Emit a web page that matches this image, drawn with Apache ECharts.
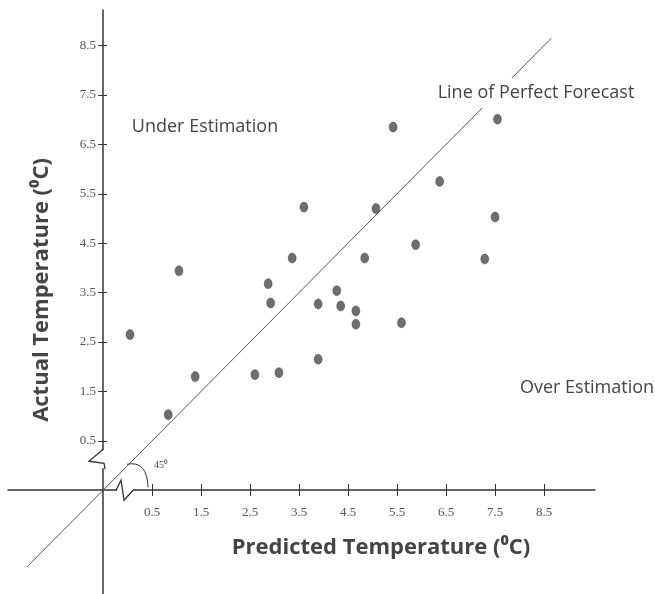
<!DOCTYPE html>
<html>
<head>
<meta charset="utf-8">
<script src="https://cdn.jsdelivr.net/npm/echarts@6/dist/echarts.min.js"></script>
<style>
  html, body { margin: 0; padding: 0; background: #fff; }
  #chart { width: 655px; height: 594px; }
</style>
</head>
<body>
<div id="chart"></div>
<script>
// tick labels on both axes
const xTicks = [0.5, 1.5, 2.5, 3.5, 4.5, 5.5, 6.5, 7.5, 8.5]
const yTicks = [0.5, 1.5, 2.5, 3.5, 4.5, 5.5, 6.5, 7.5, 8.5]
// predicted (x) / actual (y) temperatures
const predicted = [5.42, 7.55, 6.37, 3.60, 5.07, 7.50, 5.88, 3.36, 4.84, 7.29, 1.05, 2.87, 4.27,
  2.92, 3.89, 4.35, 4.66, 4.66, 5.59, 0.05, 3.89, 1.38, 2.60, 3.09, 0.83]
const actual = [6.85, 7.01, 5.75, 5.23, 5.20, 5.03, 4.47, 4.20, 4.20, 4.18, 3.94, 3.68, 3.54,
  3.29, 3.27, 3.23, 3.13, 2.86, 2.89, 2.65, 2.15, 1.80, 1.84, 1.88, 1.03]
// ends of the y = x line
const perfectLine = [-2.05, 8.65]

const chart = echarts.init(document.getElementById('chart'))

const axisColor = '#333'
const labelFont = { fontFamily: 'Liberation Serif', fontSize: 13, color: '#555' }

const option = {
  animation: false,
  grid: { left: 8, right: 60, top: 10, bottom: 0, containLabel: false },
  xAxis: [
    {
      type: 'value', min: -2.44, max: 9.54, position: 'bottom', offset: -104,
      splitLine: { show: false },
      axisLine: { onZero: false, lineStyle: { color: axisColor, width: 1.5 } },
      axisTick: { customValues: xTicks, length: 6, lineStyle: { color: axisColor } },
      axisLabel: Object.assign({ customValues: xTicks, margin: 16, formatter: v => v.toFixed(1) }, labelFont)
    },
    {
      type: 'value', min: -2.44, max: 9.54, position: 'bottom', offset: -104,
      splitLine: { show: false },
      axisLine: { show: false, onZero: false },
      axisTick: { customValues: xTicks, inside: true, length: 6, lineStyle: { color: axisColor } },
      axisLabel: { show: false }
    }
  ],
  yAxis: [
    {
      type: 'value', min: -2.6, max: 9.22, position: 'left', offset: -95,
      splitLine: { show: false },
      axisLine: { onZero: false, lineStyle: { color: axisColor, width: 1.5 } },
      axisTick: { customValues: yTicks, length: 5, lineStyle: { color: axisColor } },
      axisLabel: Object.assign({ customValues: yTicks, margin: 7, formatter: v => v.toFixed(1) }, labelFont)
    },
    {
      type: 'value', min: -2.6, max: 9.22, position: 'left', offset: -95,
      splitLine: { show: false },
      axisLine: { show: false, onZero: false },
      axisTick: { customValues: yTicks, inside: true, length: 4, lineStyle: { color: axisColor } },
      axisLabel: { show: false }
    }
  ],
  series: [
    {
      // line of perfect forecast
      type: 'line',
      silent: true,
      symbol: 'none',
      data: [[perfectLine[0], perfectLine[0]], [perfectLine[1], perfectLine[1]]],
      lineStyle: { color: '#555', width: 1 },
      z: 1
    },
    {
      type: 'scatter',
      symbol: 'circle',
      symbolSize: [8, 10],
      data: predicted.map((x, i) => [x, actual[i]]),
      itemStyle: { color: '#4a4a4a', borderColor: '#333', borderWidth: 0.5 },
      z: 3
    }
  ]
}
chart.setOption(option)

// pixel of the axis crossing, used for the break marks and the 45° note
const o = chart.convertToPixel({ gridIndex: 0 }, [-0.5, -0.5])
const ox = o[0], oy = o[1]

function txt(x, y, text, font, extra) {
  return Object.assign({
    type: 'text', x: x, y: y, z: 100,
    style: {
      text: text, font: font, fill: '#444',
      align: 'center', verticalAlign: 'middle',
      textAlign: 'center', textVerticalAlign: 'middle'
    }
  }, extra || {})
}

const regionFont = '18px "Open Sans"'
const titleFont = 'bold 22px "Open Sans"'
const lineLabel = txt(536, 93, 'Line of Perfect Forecast', regionFont)
lineLabel.style.backgroundColor = '#fff'
lineLabel.style.padding = [6, 2]

chart.setOption({
  graphic: [
    txt(205, 127, 'Under Estimation', regionFont),
    lineLabel,
    txt(587, 388, 'Over Estimation', regionFont),
    txt(381, 548, 'Predicted Temperature (⁰C)', titleFont, {}),
    txt(42, 290, 'Actual Temperature (⁰C)', titleFont, { rotation: Math.PI / 2 }),
    txt(ox + 58, oy - 25, '45⁰', '10px "Liberation Serif"'),
    // gaps in the axes for the break marks
    { type: 'rect', z: 90, shape: { x: ox + 14, y: oy - 3, width: 16, height: 6 }, style: { fill: '#fff' } },
    { type: 'rect', z: 90, shape: { x: ox - 3, y: oy - 40, width: 6, height: 18 }, style: { fill: '#fff' } },
    {
      type: 'polyline', z: 95,
      shape: { points: [[ox + 13, oy], [ox + 18, oy - 10], [ox + 21, oy + 10], [ox + 30, oy]] },
      style: { stroke: axisColor, lineWidth: 1.3, fill: null }
    },
    {
      type: 'polyline', z: 95,
      shape: { points: [[ox, oy - 41], [ox - 14, oy - 29], [ox + 1, oy - 27], [ox + 2, oy - 21]] },
      style: { stroke: axisColor, lineWidth: 1.3, fill: null }
    },
    {
      type: 'bezierCurve', z: 95,
      shape: { x1: ox + 24, y1: oy - 26, x2: ox + 45, y2: oy - 3, cpx1: ox + 44, cpy1: oy - 30 },
      style: { stroke: axisColor, lineWidth: 1, fill: null }
    }
  ]
})
</script>
</body>
</html>
